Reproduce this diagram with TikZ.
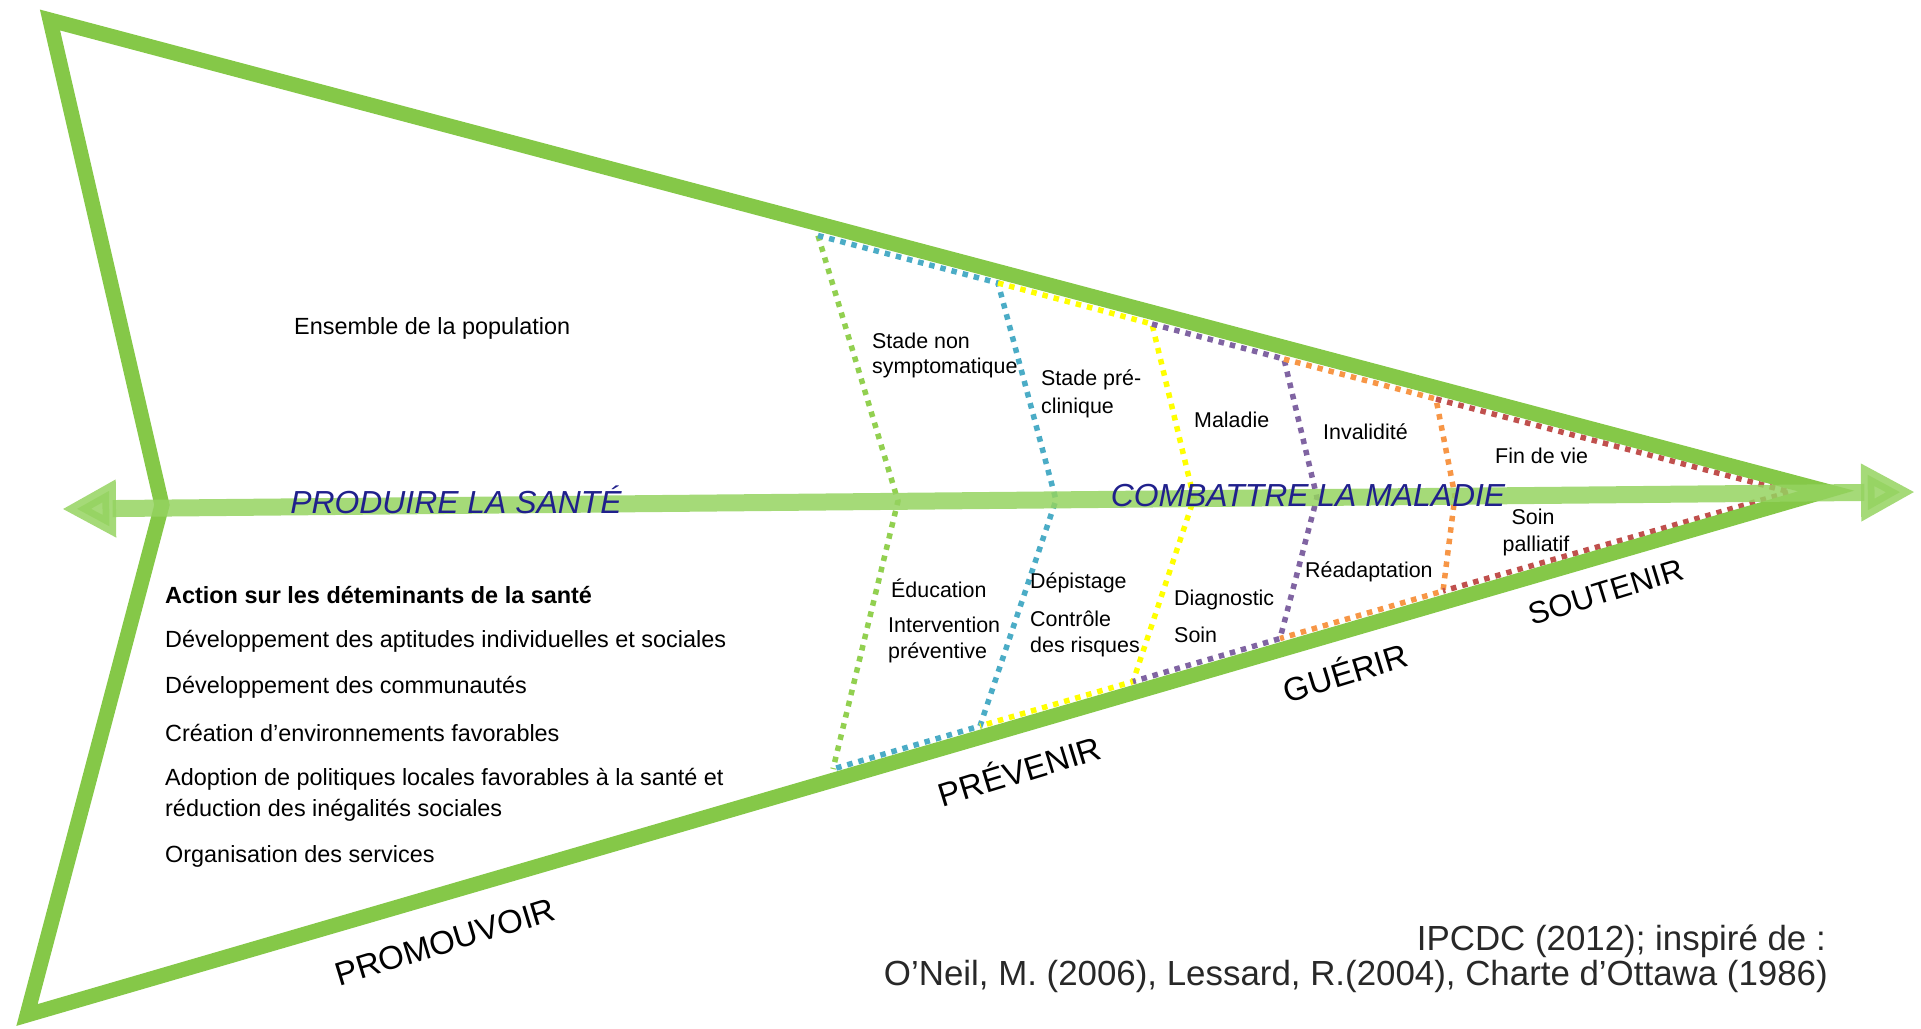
\documentclass[tikz,border=0pt]{standalone}
\usepackage{fontspec}
\setmainfont{Liberation Sans}
\usetikzlibrary{arrows.meta}

\definecolor{shapegreen}{RGB}{133,200,72}
\definecolor{axisgreen}{RGB}{149,211,96}
\definecolor{titleblue}{RGB}{32,32,140}
\definecolor{dotgreen}{RGB}{146,208,80}
\definecolor{dotblue}{RGB}{75,172,198}
\definecolor{dotyellow}{RGB}{255,255,0}
\definecolor{dotpurple}{RGB}{128,100,162}
\definecolor{dotorange}{RGB}{247,150,70}
\definecolor{dotred}{RGB}{192,80,77}
\definecolor{citegray}{RGB}{40,40,40}

\tikzset{
  outline/.style={draw=shapegreen, line width=15bp, line join=miter},
  axisarrow/.style={draw=axisgreen, opacity=0.85, line width=17bp,
    {Triangle[width=54bp,length=54bp]}-{Triangle[width=54bp,length=54bp]}},
  dotsline/.style={line width=5.5bp, dash pattern=on 5.5bp off 6bp, line cap=butt},
  stagelbl/.style={font=\fontsize{21.5}{26}\selectfont, inner sep=0pt, anchor=west},
  leftlbl/.style={font=\fontsize{23.5}{28}\selectfont, inner sep=0pt, anchor=west},
  axislbl/.style={font=\fontsize{32}{36}\selectfont\itshape, text=titleblue, inner sep=0pt},
  phaselbl/.style={font=\fontsize{33}{36}\selectfont, inner sep=0pt, rotate=17},
  citelbl/.style={font=\fontsize{35}{38}\selectfont, text=citegray, inner sep=0pt, anchor=east}
}

\begin{document}
\begin{tikzpicture}[x=1bp,y=-1bp]
\useasboundingbox (0,0) rectangle (1921,1028);

% corners of the green arrowhead outline
\coordinate (tl) at (50,20);
\coordinate (tip) at (1826,491);
\coordinate (bl) at (27,1015);
\coordinate (notch) at (162,505);

% stage boundaries: top, middle and bottom of each chevron
\coordinate (t1) at (818,235.5);  \coordinate (m1) at (898,501);   \coordinate (b1) at (833,769);
\coordinate (t2) at (998,283);    \coordinate (m2) at (1056,500);  \coordinate (b2) at (980,726);
\coordinate (t3) at (1152,324);   \coordinate (m3) at (1194,498.5);\coordinate (b3) at (1133,681.5);
\coordinate (t4) at (1284,359);   \coordinate (m4) at (1317,497.5);\coordinate (b4) at (1280,638.5);
\coordinate (t5) at (1436,399);   \coordinate (m5) at (1455,496);  \coordinate (b5) at (1443,591);
\coordinate (end) at (1790,492);

% dotted stage frames
\draw[dotsline, dotgreen]  (t1) -- (m1) -- (b1);
\draw[dotsline, dotblue]   (t1) -- (t2) -- (m2) -- (b2) -- (b1);
\draw[dotsline, dotyellow] (t2) -- (t3) -- (m3) -- (b3) -- (b2);
\draw[dotsline, dotpurple] (t3) -- (t4) -- (m4) -- (b4) -- (b3);
\draw[dotsline, dotorange] (t4) -- (t5) -- (m5) -- (b5) -- (b4);
\draw[dotsline, dotred]    (t5) -- (end) -- (b5);

% green outline
\draw[outline] (tl) -- (tip) -- (bl) -- (notch) -- cycle;

% horizontal double arrow
\coordinate (axL) at (62,509);
\coordinate (axR) at (1915,492);
\draw[axisarrow] (axL) -- (axR);

% axis titles
\node[axislbl] (produire) at (456,500) {PRODUIRE LA SANTÉ};
\node[axislbl] (combattre) at (1308,496) {COMBATTRE LA MALADIE};

% population label
\node[leftlbl] (ensemble) at (294,328) {Ensemble de la population};

% determinants of health
\node[leftlbl, font=\fontsize{23.5}{28}\selectfont\bfseries] (action) at (165,595) {Action sur les déteminants de la santé};
\node[leftlbl] (det1) at (165,641) {Développement des aptitudes individuelles  et sociales};
\node[leftlbl] (det2) at (165,687) {Développement des communautés};
\node[leftlbl] (det3) at (165,733) {Création d’environnements  favorables};
\node[leftlbl] (det4) at (165,779) {Adoption de politiques  locales favorables à la santé et};
\node[leftlbl] (det4b) at (165,810) {réduction des inégalités  sociales};
\node[leftlbl] (det5) at (165,856) {Organisation des services};

% stages (upper half)
\node[stagelbl] (s1a) at (872,341) {Stade non};
\node[stagelbl] (s1b) at (872,368) {symptomatique};
\node[stagelbl] (s2a) at (1041,380) {Stade pré-};
\node[stagelbl] (s2b) at (1041,408) {clinique};
\node[stagelbl] (s3) at (1194,420) {Maladie};
\node[stagelbl] (s4) at (1323,432) {Invalidité};
\node[stagelbl] (s5) at (1495,456) {Fin de vie};

% interventions (lower half)
\node[stagelbl] (i1a) at (891,588) {Éducation};
\node[stagelbl] (i1b) at (888,625) {Intervention};
\node[stagelbl] (i1c) at (888,653) {préventive};
\node[stagelbl] (i2a) at (1030,583) {Dépistage};
\node[stagelbl] (i2b) at (1030,619) {Contrôle};
\node[stagelbl] (i2c) at (1030,647) {des risques};
\node[stagelbl] (i3a) at (1174,600) {Diagnostic};
\node[stagelbl] (i3b) at (1174,635) {Soin};
\node[stagelbl] (i4) at (1305,572) {Réadaptation};
\node[stagelbl, anchor=center] (i5a) at (1533,517) {Soin};
\node[stagelbl, anchor=center] (i5b) at (1536,546) {palliatif};

% phases along the lower edge
\node[phaselbl] (promouvoir) at (445,942) {PROMOUVOIR};
\node[phaselbl] (prevenir) at (1019,769) {PRÉVENIR};
\node[phaselbl] (guerir) at (1345,671) {GUÉRIR};
\node[phaselbl, font=\fontsize{31}{34}\selectfont] (soutenir) at (1606,592) {SOUTENIR};

% sources
\node[citelbl] (cite1) at (1826,941) {IPCDC (2012); inspiré de :};
\node[citelbl] (cite2) at (1828,976) {O’Neil, M. (2006), Lessard, R.(2004), Charte d’Ottawa (1986)};
\end{tikzpicture}
\end{document}
